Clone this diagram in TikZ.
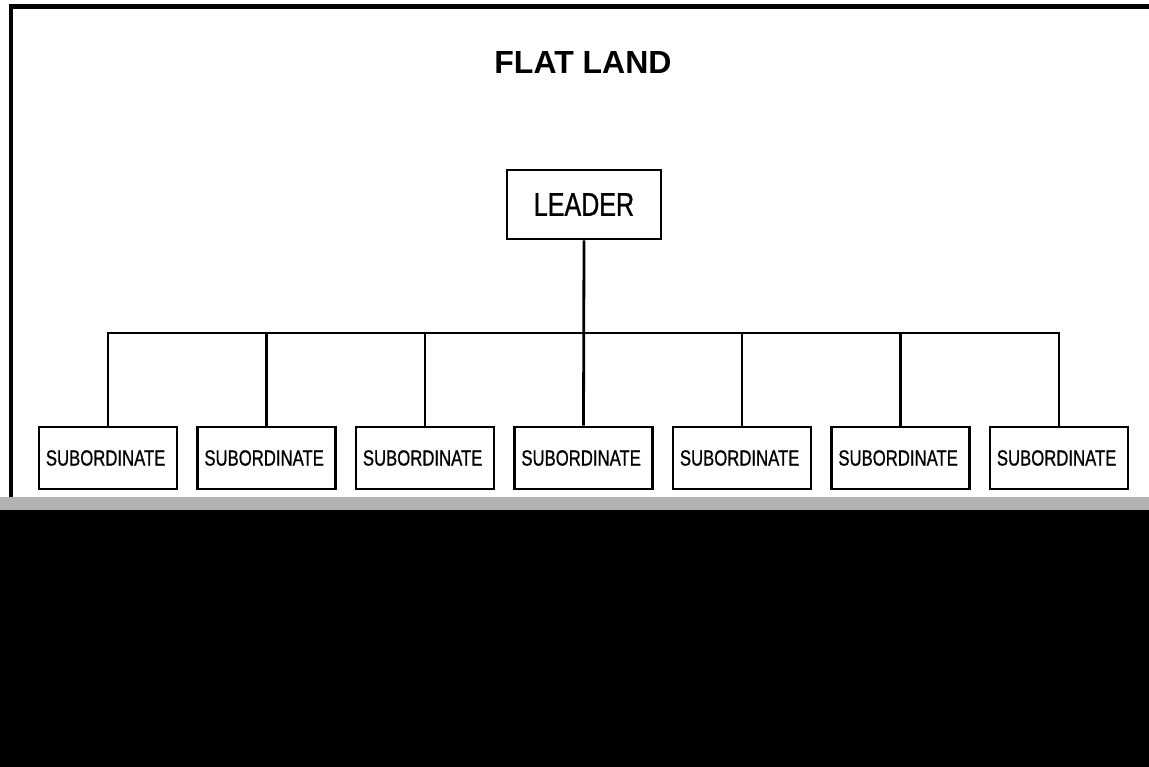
\documentclass[tikz,border=0pt]{standalone}
\usepackage{fontspec}
\setmainfont{Liberation Sans}
\newfontfamily\condfont[FakeStretch=0.76,FakeBold=0.8]{Liberation Sans}
\usepackage{tikz}
\usetikzlibrary{positioning}
\usetikzlibrary{matrix}

\tikzset{
  chartbox/.style={draw, line width=2.8pt, inner sep=0pt, align=center},
  bossbox/.style={chartbox, minimum width=154pt, minimum height=69pt,
    font=\condfont\fontsize{33}{36}\selectfont},
  staffbox/.style={chartbox, minimum width=138pt, minimum height=62pt,
    font=\condfont\fontsize{22}{26}\selectfont},
  link/.style={line width=2.8pt}
}

\begin{document}
\begin{tikzpicture}[x=1pt,y=-1pt]
\useasboundingbox (0,0) rectangle (1149,767);
% frame and dark lower part
\fill[white] (0,0) rectangle (1149,767);
\draw[line width=4.5pt] (11,500) -- (11,6.5) -- (1149,6.5);
\fill[black!30] (0,497) rectangle (1149,510);
\fill[black] (0,510) rectangle (1149,767);

\node (title) at (583,62.5) {\fontsize{32}{36}\selectfont\bfseries FLAT LAND};
\node[bossbox] (leader) at (584,204.5) {LEADER};

\matrix (staff) at (583.5,458) [matrix of nodes, nodes={staffbox},
column sep={158.5pt,between origins}]
{
|(s1)|{SUBORDINATE} & |(s2)|{SUBORDINATE} & |(s3)|{SUBORDINATE} & |(s4)|{SUBORDINATE} & |(s5)|{SUBORDINATE} & |(s6)|{SUBORDINATE} & |(s7)|{SUBORDINATE} \\
};

\coordinate (bar) at (584,333);
\draw[link] (leader.south) -- (s4.north);
\draw[link] (s1.north) |- (bar) -| (s7.north);
\draw[link] (s2.north) -- (s2.north |- bar);
\draw[link] (s3.north) -- (s3.north |- bar);
\draw[link] (s5.north) -- (s5.north |- bar);
\draw[link] (s6.north) -- (s6.north |- bar);
\end{tikzpicture}
\end{document}
